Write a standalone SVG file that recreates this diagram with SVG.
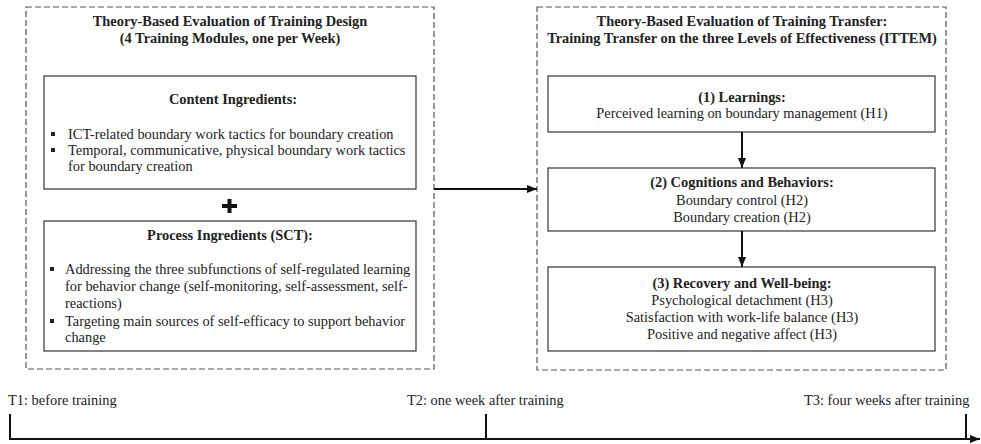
<svg xmlns="http://www.w3.org/2000/svg" width="981" height="444" viewBox="0 0 981 444">
<style>
text{font-family:"Liberation Serif","Times New Roman",serif;fill:#222;font-size:14.4px}
.b{font-weight:bold}
.c{text-anchor:middle}
.dash{fill:none;stroke:#555;stroke-width:1.2;stroke-dasharray:6,3}
.box{fill:#fff;stroke:#333;stroke-width:1.2}
.conn{stroke:#111;stroke-width:2;fill:none}
</style>
<defs>
<marker id="ah" viewBox="0 0 10 10" refX="10" refY="5" markerWidth="5" markerHeight="5" markerUnits="strokeWidth" orient="auto">
<path d="M0,1 L10,5 L0,9 Z" fill="#111"/>
</marker>
</defs>
<g id="design">
<rect class="dash" x="26" y="7" width="408" height="362"/>
<text class="b c" x="230" y="26">Theory-Based Evaluation of Training Design</text>
<text class="b c" x="230" y="43">(4 Training Modules, one per Week)</text>
</g>
<g id="content">
<rect class="box" x="44" y="76" width="372" height="113"/>
<text class="b c" x="233" y="104">Content Ingredients:</text>
<rect x="51" y="132" width="4" height="4" fill="#222"/>
<rect x="51" y="148" width="4" height="4" fill="#222"/>
<text x="68" y="139">ICT-related boundary work tactics for boundary creation</text>
<text x="68" y="155">Temporal, communicative, physical boundary work tactics</text>
<text x="68" y="171">for boundary creation</text>
</g>
<g id="plus">
<rect x="222" y="204" width="15" height="4" fill="#111"/>
<rect x="227.5" y="199" width="4" height="14" fill="#111"/>
</g>
<g id="process">
<rect class="box" x="44" y="221" width="372" height="130"/>
<text class="b c" x="230" y="240">Process Ingredients (SCT):</text>
<rect x="50" y="267" width="4" height="4" fill="#222"/>
<rect x="50" y="319" width="4" height="4" fill="#222"/>
<text x="65" y="274">Addressing the three subfunctions of self-regulated learning</text>
<text x="65" y="291">for behavior change (self-monitoring, self-assessment, self-</text>
<text x="65" y="308">reactions)</text>
<text x="65" y="326">Targeting main sources of self-efficacy to support behavior</text>
<text x="65" y="342">change</text>
</g>
<g id="transfer">
<rect class="dash" x="537" y="7" width="409" height="363"/>
<text class="b c" x="742" y="26">Theory-Based Evaluation of Training Transfer:</text>
<text class="b c" x="742" y="43">Training Transfer on the three Levels of Effectiveness (ITTEM)</text>
</g>
<g id="learnings">
<rect class="box" x="548" y="76" width="387" height="56"/>
<text class="b c" x="742" y="102">(1) Learnings:</text>
<text class="c" x="742" y="118">Perceived learning on boundary management (H1)</text>
</g>
<g id="cognitions">
<rect class="box" x="548" y="168" width="387" height="63"/>
<text class="b c" x="742" y="187">(2) Cognitions and Behaviors:</text>
<text class="c" x="742" y="205">Boundary control (H2)</text>
<text class="c" x="742" y="222">Boundary creation (H2)</text>
</g>
<g id="recovery">
<rect class="box" x="548" y="267" width="387" height="84"/>
<text class="b c" x="742" y="288">(3) Recovery and Well-being:</text>
<text class="c" x="742" y="305">Psychological detachment (H3)</text>
<text class="c" x="742" y="322">Satisfaction with work-life balance (H3)</text>
<text class="c" x="742" y="339">Positive and negative affect (H3)</text>
</g>
<g id="timeline">
<text x="8" y="405">T1: before training</text>
<text x="407" y="405">T2: one week after training</text>
<text x="804" y="405">T3: four weeks after training</text>
</g>
<g id="connectors">
<line class="conn" x1="434" y1="189" x2="537" y2="189" marker-end="url(#ah)"/>
<line class="conn" x1="742" y1="132" x2="742" y2="168" marker-end="url(#ah)"/>
<line class="conn" x1="742" y1="231" x2="742" y2="267" marker-end="url(#ah)"/>
<line class="conn" x1="9" y1="439" x2="980" y2="439" marker-end="url(#ah)"/>
<line class="conn" x1="10" y1="414" x2="10" y2="440"/>
<line class="conn" x1="486" y1="414" x2="486" y2="439"/>
<line class="conn" x1="966" y1="414" x2="966" y2="439"/>
</g>
</svg>
